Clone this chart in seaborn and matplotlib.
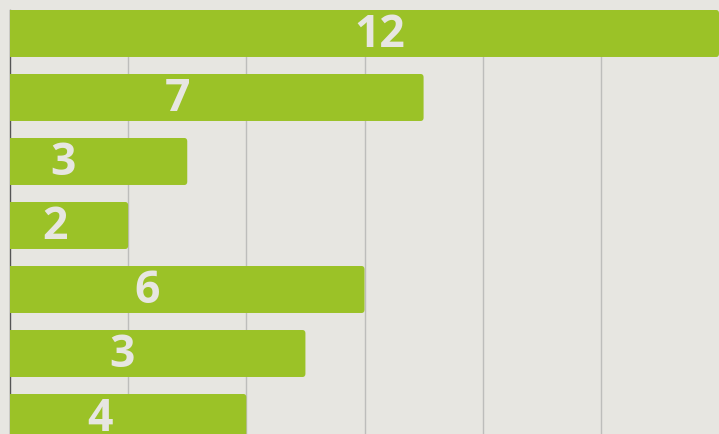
import matplotlib
matplotlib.use('Agg')
import matplotlib.pyplot as plt
import seaborn as sns
import pandas as pd
from matplotlib.patches import FancyBboxPatch

# data
categories = ['A', 'B', 'C', 'D', 'E', 'F', 'G']
values = [12, 7, 3, 2, 6, 5, 4]
labels = ['12', '7', '3', '2', '6', '3', '4']
# where the number sits along each bar (data units)
label_x = [6.26, 2.84, 0.90, 0.76, 2.32, 1.89, 1.52]

bg = '#e7e6e1'
green = '#9bc227'

sns.set_theme(style='white')
plt.rcParams['font.family'] = ['Open Sans', 'DejaVu Sans']

df = pd.DataFrame({'cat': categories, 'val': values})

fig = plt.figure(figsize=(7.19, 4.34), dpi=100)
fig.patch.set_facecolor(bg)
ax = fig.add_axes([10 / 719, 1 - 449.5 / 434, 709 / 719, 439.5 / 434])
ax.set_facecolor(bg)

sns.barplot(data=df, x='val', y='cat', orient='h', color=green, width=0.734,
            saturation=1, ax=ax, zorder=2)

# swap the plain bars for rounded ones
for p in list(ax.patches):
    x0, y0 = p.get_x(), p.get_y()
    w, h = p.get_width(), p.get_height()
    rb = FancyBboxPatch((x0 - 0.1, y0), w + 0.1, h,
                        boxstyle='round,pad=0,rounding_size=0.05',
                        fc=green, ec='none', zorder=2, mutation_aspect=1)
    p.remove()
    ax.add_patch(rb)

for i, (lx, lab) in enumerate(zip(label_x, labels)):
    ax.text(lx, i + 0.03, lab, ha='center', va='center', color=bg,
            fontsize=32, fontweight='bold', zorder=3)

ax.set_xlim(0, 12)
ax.set_ylim(6.5, -0.367)
ax.set_xticks([2, 4, 6, 8, 10])
ax.xaxis.grid(True, color='#bdbdbb', linewidth=1, zorder=0)
ax.set_axisbelow(True)
ax.set_xlabel('')
ax.set_ylabel('')
ax.tick_params(left=False, bottom=False, labelleft=False, labelbottom=False)
for s in ['top', 'right', 'bottom']:
    ax.spines[s].set_visible(False)
ax.spines['left'].set_color('#555555')
ax.spines['left'].set_linewidth(1)
ax.spines['left'].set_zorder(1)

fig.savefig('out.png', dpi=100, facecolor=bg)
